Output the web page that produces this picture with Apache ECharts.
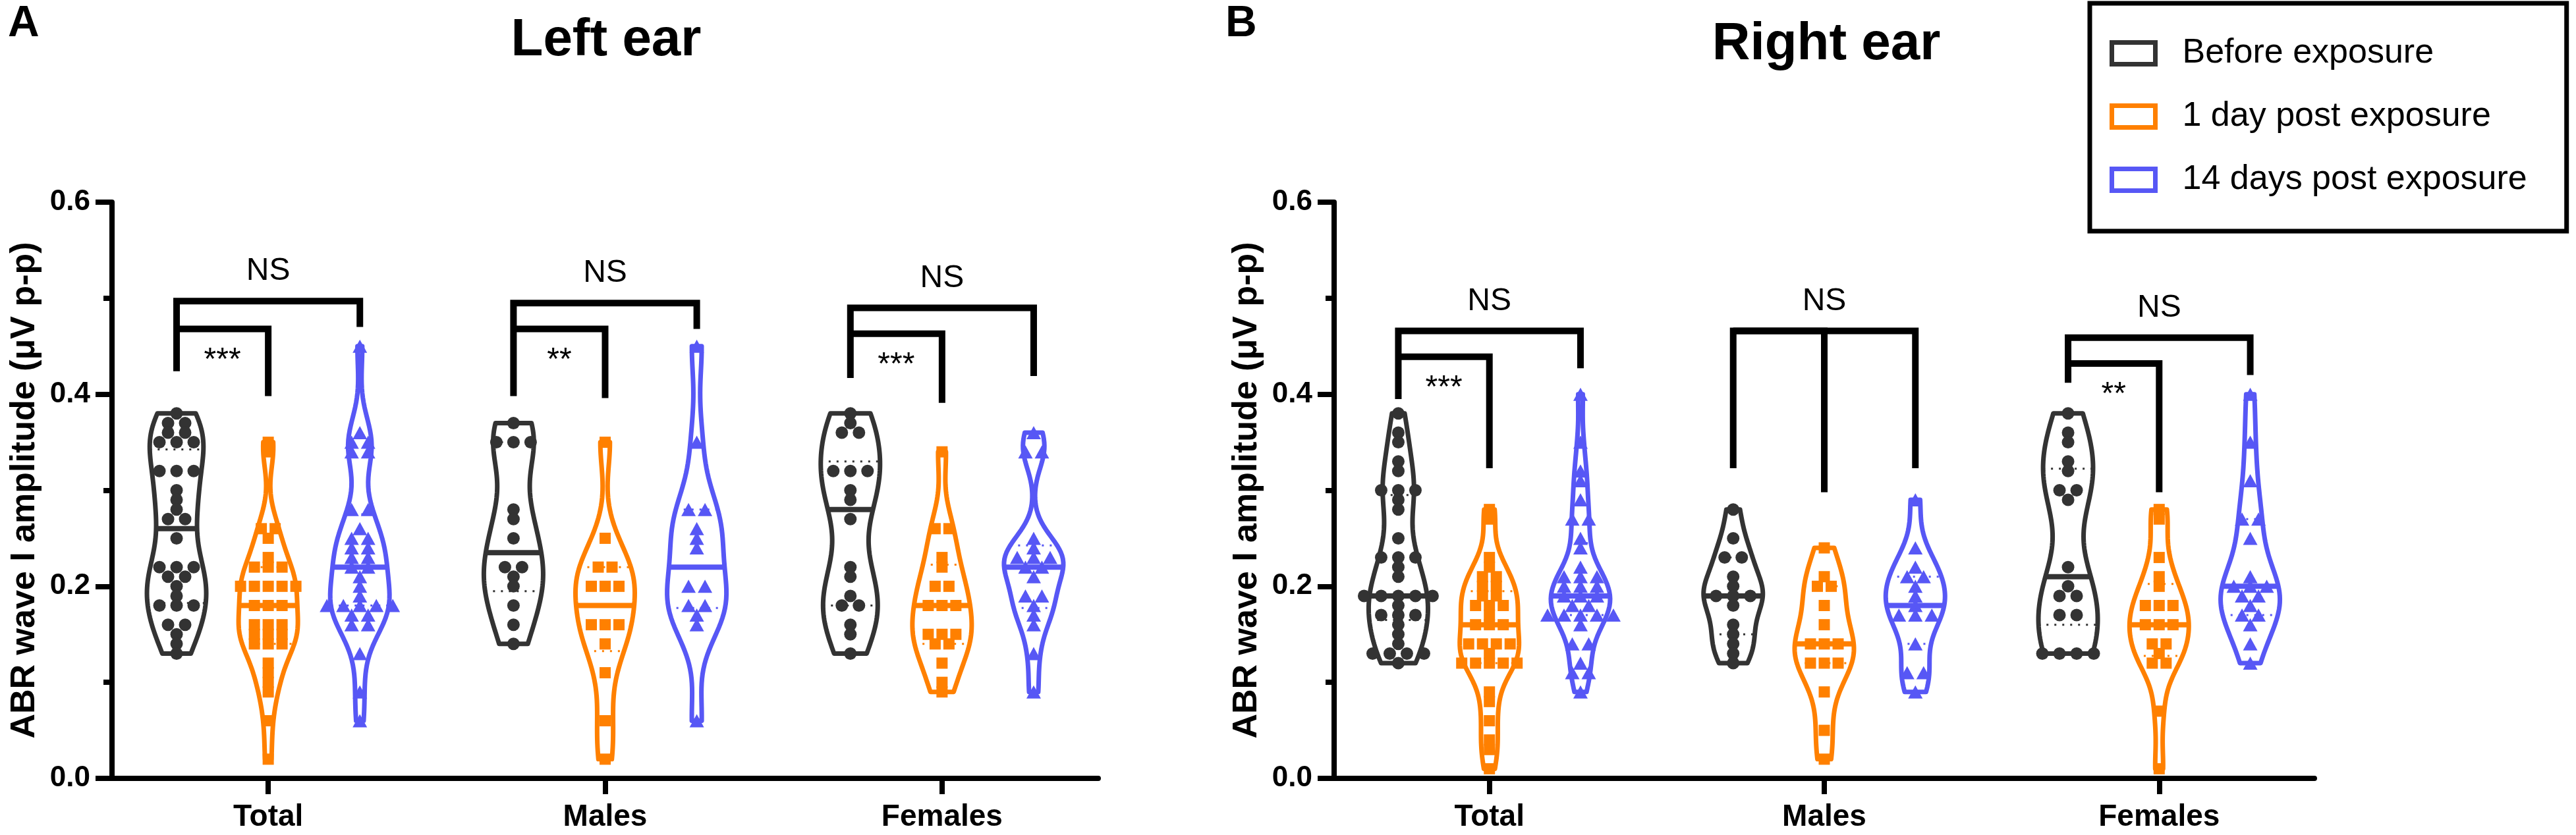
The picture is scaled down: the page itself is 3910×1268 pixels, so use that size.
<!DOCTYPE html>
<html>
<head>
<meta charset="utf-8">
<script src="https://cdn.jsdelivr.net/npm/echarts@6/dist/echarts.min.js"></script>
<style>
  html, body { margin: 0; padding: 0; background: #fff; }
  #chart { width: 3910px; height: 1268px; }
</style>
</head>
<body>
<div id="chart"></div>
<script>
// groups, conditions, look of each condition
const groups = ['Total', 'Males', 'Females'];
const conditions = ['Before exposure', '1 day post exposure', '14 days post exposure'];
const colors = ['#333333', '#ff8000', '#5757f5'];
const symbols = ['circle', 'rect', 'triangle'];

// left ear, one sub-array per group (Total, Males, Females)
const leftBefore = [
  [0.38, 0.37, 0.37, 0.36, 0.36, 0.35, 0.35, 0.35, 0.32, 0.32, 0.32, 0.30, 0.29, 0.28, 0.27, 0.27,
   0.25, 0.22, 0.22, 0.22, 0.21, 0.21, 0.20, 0.19, 0.18, 0.18, 0.18, 0.16, 0.16, 0.15, 0.14, 0.13],
  [0.37, 0.35, 0.35, 0.35, 0.28, 0.27, 0.25, 0.22, 0.22, 0.21, 0.20, 0.18, 0.16, 0.14],
  [0.38, 0.37, 0.36, 0.36, 0.32, 0.32, 0.32, 0.30, 0.29, 0.27, 0.22, 0.21, 0.19, 0.18, 0.18, 0.16, 0.15, 0.13]
];
const leftDay1 = [
  [0.35, 0.34, 0.26, 0.26, 0.25, 0.23, 0.22, 0.22, 0.22, 0.20, 0.20, 0.20, 0.20, 0.20, 0.18, 0.18,
   0.18, 0.16, 0.16, 0.16, 0.15, 0.15, 0.15, 0.14, 0.14, 0.14, 0.12, 0.11, 0.10, 0.09, 0.06, 0.02],
  [0.35, 0.25, 0.22, 0.22, 0.20, 0.20, 0.20, 0.16, 0.16, 0.16, 0.14, 0.11, 0.06, 0.02],
  [0.34, 0.26, 0.26, 0.23, 0.22, 0.20, 0.20, 0.18, 0.18, 0.18, 0.15, 0.15, 0.15, 0.14, 0.14, 0.12, 0.10, 0.09]
];
const leftDay14 = [
  [0.45, 0.36, 0.35, 0.35, 0.34, 0.34, 0.28, 0.28, 0.26, 0.25, 0.25, 0.24, 0.24, 0.23, 0.23, 0.22,
   0.22, 0.21, 0.20, 0.19, 0.18, 0.18, 0.18, 0.18, 0.18, 0.17, 0.17, 0.16, 0.16, 0.13, 0.09, 0.06],
  [0.45, 0.35, 0.28, 0.28, 0.26, 0.25, 0.24, 0.20, 0.20, 0.18, 0.18, 0.17, 0.16, 0.06],
  [0.36, 0.34, 0.34, 0.25, 0.24, 0.23, 0.23, 0.23, 0.22, 0.22, 0.21, 0.19, 0.19, 0.18, 0.17, 0.16, 0.13, 0.09]
];

// right ear
const rightBefore = [
  [0.38, 0.36, 0.35, 0.33, 0.32, 0.30, 0.30, 0.30, 0.29, 0.28, 0.25, 0.23, 0.23, 0.23, 0.22, 0.21, 0.19,
   0.19, 0.19, 0.19, 0.19, 0.18, 0.17, 0.17, 0.17, 0.16, 0.15, 0.14, 0.13, 0.13, 0.13, 0.13, 0.12],
  [0.28, 0.25, 0.23, 0.23, 0.21, 0.20, 0.19, 0.19, 0.19, 0.18, 0.16, 0.15, 0.14, 0.13, 0.12],
  [0.38, 0.36, 0.35, 0.33, 0.32, 0.30, 0.30, 0.29, 0.22, 0.20, 0.19, 0.19, 0.17, 0.17, 0.13, 0.13, 0.13, 0.13]
];
const rightDay1 = [
  [0.28, 0.27, 0.23, 0.22, 0.21, 0.21, 0.20, 0.20, 0.19, 0.19, 0.18, 0.18, 0.18, 0.17, 0.16, 0.16, 0.16,
   0.14, 0.14, 0.14, 0.14, 0.13, 0.12, 0.12, 0.12, 0.12, 0.12, 0.09, 0.08, 0.06, 0.04, 0.03, 0.01],
  [0.24, 0.21, 0.20, 0.20, 0.18, 0.16, 0.14, 0.14, 0.14, 0.12, 0.12, 0.12, 0.09, 0.05, 0.02],
  [0.28, 0.27, 0.23, 0.21, 0.20, 0.18, 0.18, 0.18, 0.16, 0.16, 0.16, 0.14, 0.14, 0.13, 0.12, 0.12, 0.07, 0.01]
];
const rightDay14 = [
  [0.40, 0.35, 0.32, 0.31, 0.29, 0.27, 0.27, 0.25, 0.24, 0.22, 0.21, 0.21, 0.21, 0.20, 0.20, 0.20, 0.19,
   0.19, 0.19, 0.18, 0.18, 0.17, 0.17, 0.17, 0.17, 0.17, 0.16, 0.14, 0.14, 0.12, 0.11, 0.11, 0.09],
  [0.29, 0.24, 0.22, 0.21, 0.21, 0.20, 0.19, 0.18, 0.17, 0.17, 0.17, 0.14, 0.11, 0.11, 0.09],
  [0.40, 0.35, 0.31, 0.27, 0.27, 0.25, 0.21, 0.20, 0.20, 0.20, 0.19, 0.19, 0.18, 0.17, 0.17, 0.16, 0.14, 0.12]
];

// comparison brackets per group: [outer top, left leg end, right leg end, inner top, inner leg end]
const leftBrackets = [
  [0.497, 0.424, 0.470, 0.468, 0.398],
  [0.495, 0.398, 0.468, 0.468, 0.396],
  [0.490, 0.417, 0.419, 0.463, 0.391]
];
const leftStars = ['***', '**', '***'];
const rightBrackets = [
  [0.466, 0.395, 0.427, 0.439, 0.323],
  [0.466, 0.323, 0.323, 0.466, 0.298],
  [0.459, 0.412, 0.420, 0.432, 0.298]
];
const rightStars = ['***', '', '**'];

const sides = [[leftBefore, leftDay1, leftDay14], [rightBefore, rightDay1, rightDay14]];
const brackets = [leftBrackets, rightBrackets];
const stars = [leftStars, rightStars];

const dodge = [-0.272, 0, 0.272];   // violin offset inside a group, in group units
const halfWidth = 45;               // px, widest point of every violin
const swarmGap = [26, 21, 25];      // px between points with the same value
const symbolSizes = [19, 17, [22, 20]];
const font = '"Liberation Sans", Arial, sans-serif';

function quantile(sorted, p) {
  const n = sorted.length;
  const h = Math.min(Math.max((n + 1) * p, 1), n);
  const lo = Math.floor(h);
  const hi = Math.min(lo + 1, n);
  return sorted[lo - 1] + (sorted[hi - 1] - sorted[lo - 1]) * (h - lo);
}

function stats(vals) {
  const s = vals.slice().sort((a, b) => a - b);
  return { min: s[0], max: s[s.length - 1], q1: quantile(s, 0.25), med: quantile(s, 0.5), q3: quantile(s, 0.75) };
}

function bandwidth(vals) {
  const n = vals.length;
  const mean = vals.reduce((a, b) => a + b, 0) / n;
  const sd = Math.sqrt(vals.reduce((a, b) => a + (b - mean) * (b - mean), 0) / (n - 1));
  const st = stats(vals);
  const spread = Math.min(sd, (st.q3 - st.q1) / 1.34) || sd;
  return 0.85 * 0.9 * spread * Math.pow(n, -0.2);
}

function kde(vals, bw, y) {
  let sum = 0;
  vals.forEach(v => { const z = (y - v) / bw; sum += Math.exp(-0.5 * z * z); });
  return sum;
}

// relative width profile from min to max
function profile(vals) {
  const st = stats(vals);
  const bw = bandwidth(vals);
  const steps = 80;
  const pts = [];
  let peak = 0;
  for (let i = 0; i <= steps; i++) {
    const y = st.min + (st.max - st.min) * i / steps;
    const d = kde(vals, bw, y);
    peak = Math.max(peak, d);
    pts.push([y, d]);
  }
  return { pts: pts.map(p => [p[0], p[1] / peak]), bw, peak, st };
}

function swarm(vals, gap) {
  const counts = {}, seen = {};
  vals.forEach(v => { const k = v.toFixed(3); counts[k] = (counts[k] || 0) + 1; });
  return vals.map(v => {
    const k = v.toFixed(3);
    seen[k] = seen[k] === undefined ? 0 : seen[k] + 1;
    return (seen[k] - (counts[k] - 1) / 2) * gap;
  });
}

function violinRender(side, c) {
  return function (params, api) {
    const g = api.value(0);
    const prof = profile(sides[side][c][g]);
    const cx = api.coord([g + dodge[c], 0])[0];
    const right = [], left = [];
    prof.pts.forEach(([y, w]) => {
      const py = api.coord([g, y])[1];
      right.push([cx + w * halfWidth, py]);
      left.unshift([cx - w * halfWidth, py]);
    });
    return {
      type: 'polygon',
      shape: { points: right.concat(left) },
      style: { fill: 'none', stroke: colors[c], lineWidth: 7, lineJoin: 'round' }
    };
  };
}

function statsRender(side, c) {
  return function (params, api) {
    const g = api.value(0);
    const vals = sides[side][c][g];
    const prof = profile(vals);
    const cx = api.coord([g + dodge[c], 0])[0];
    const seg = (y, style) => {
      const w = kde(vals, prof.bw, y) / prof.peak * halfWidth;
      const py = api.coord([g, y])[1];
      return { type: 'line', shape: { x1: cx - w, y1: py, x2: cx + w, y2: py }, style };
    };
    const dotted = { stroke: colors[c], lineWidth: 3, lineDash: [3, 9] };
    return {
      type: 'group',
      children: [
        seg(prof.st.q1, dotted),
        seg(prof.st.q3, dotted),
        seg(prof.st.med, { stroke: colors[c], lineWidth: 8 })
      ]
    };
  };
}

function bracketRender(side) {
  return function (params, api) {
    const g = api.value(0);
    const [top, legL, legR, inTop, inLeg] = brackets[side][g];
    const xL = api.coord([g + dodge[0], 0])[0];
    const xM = api.coord([g + dodge[1], 0])[0];
    const xR = api.coord([g + dodge[2], 0])[0];
    const y = v => api.coord([g, v])[1];
    const line = { stroke: '#000', lineWidth: 10, fill: 'none', lineJoin: 'miter', lineCap: 'butt' };
    const txt = { font: '48px ' + font, fill: '#000', align: 'center', verticalAlign: 'middle' };
    return {
      type: 'group',
      children: [
        { type: 'polyline', shape: { points: [[xL, y(legL)], [xL, y(top)], [xR, y(top)], [xR, y(legR)]] }, style: line },
        { type: 'polyline', shape: { points: [[xL, y(inTop)], [xM, y(inTop)], [xM, y(inLeg)]] }, style: line },
        { type: 'text', x: (xL + xR) / 2, y: y(top) - 45, style: Object.assign({ text: 'NS' }, txt) },
        { type: 'text', x: (xL + xM) / 2, y: y(inTop) + 48, style: Object.assign({ text: stars[side][g] }, txt) }
      ]
    };
  };
}

const groupRows = groups.map((name, i) => [i, 0]);
const series = [];
[0, 1].forEach(side => {
  conditions.forEach((name, c) => {
    series.push({
      type: 'custom', name, xAxisIndex: side, yAxisIndex: side, z: 2,
      renderItem: violinRender(side, c), data: groupRows, encode: { x: 0, y: 1 }, silent: true
    });
    const pts = [];
    sides[side][c].forEach((vals, g) => {
      const offs = swarm(vals, swarmGap[c]);
      vals.forEach((v, i) => pts.push({ value: [g + dodge[c], v], symbolOffset: [offs[i], 0] }));
    });
    series.push({
      type: 'scatter', name, xAxisIndex: side, yAxisIndex: side, z: 3,
      symbol: symbols[c], symbolSize: symbolSizes[c],
      itemStyle: { color: colors[c], opacity: 1 }, data: pts, silent: true
    });
    series.push({
      type: 'custom', xAxisIndex: side, yAxisIndex: side, z: 4,
      renderItem: statsRender(side, c), data: groupRows, encode: { x: 0, y: 1 }, silent: true
    });
  });
  series.push({
    type: 'custom', xAxisIndex: side, yAxisIndex: side, z: 5,
    renderItem: bracketRender(side), data: groupRows, encode: { x: 0, y: 1 }, silent: true
  });
});

const axisStyle = { color: '#000', width: 8 };
function xAxis(i) {
  return {
    type: 'value', gridIndex: i, min: -0.4637, max: 2.4637,
    axisLine: { show: true, onZero: false, lineStyle: axisStyle },
    axisTick: { show: true, length: 24, customValues: [0, 1, 2], lineStyle: axisStyle },
    axisLabel: {
      customValues: [0, 1, 2], formatter: v => groups[Math.round(v)],
      fontSize: 46, fontWeight: 'bold', color: '#000', margin: 36, fontFamily: font
    },
    splitLine: { show: false }
  };
}
function yAxis(i) {
  return {
    type: 'value', gridIndex: i, min: 0, max: 0.6, interval: 0.2,
    axisLine: { show: true, onZero: false, lineStyle: axisStyle },
    axisTick: { show: true, length: 25, lineStyle: axisStyle },
    minorTick: { show: true, splitNumber: 2, length: 13, lineStyle: axisStyle },
    axisLabel: {
      formatter: v => v.toFixed(1), fontSize: 44, fontWeight: 'bold', color: '#000', margin: 33, fontFamily: font
    },
    splitLine: { show: false },
    name: 'ABR wave I amplitude (\u03bcV p-p)', nameLocation: 'middle', nameGap: 106,
    nameTextStyle: { fontSize: 52, fontWeight: 'bold', color: '#000', fontFamily: font }
  };
}

const chart = echarts.init(document.getElementById('chart'));
chart.setOption({
  animation: false,
  backgroundColor: '#fff',
  textStyle: { fontFamily: font },
  title: [
    { text: 'A', left: 12, top: 4, padding: 0, textStyle: { fontSize: 66, fontWeight: 'bold', color: '#000' } },
    { text: 'Left ear', left: 920, top: 22, padding: 0, textAlign: 'center', textStyle: { fontSize: 80, fontWeight: 'bold', color: '#000' } },
    { text: 'B', left: 1860, top: 4, padding: 0, textStyle: { fontSize: 66, fontWeight: 'bold', color: '#000' } },
    { text: 'Right ear', left: 2772, top: 28, padding: 0, textAlign: 'center', textStyle: { fontSize: 80, fontWeight: 'bold', color: '#000' } }
  ],
  legend: {
    orient: 'vertical', left: 3172, top: 5,
    padding: [50, 60, 52, 30], itemWidth: 66, itemHeight: 33, itemGap: 44,
    borderColor: '#000', borderWidth: 7, selectedMode: false,
    textStyle: { fontSize: 52, color: '#000', fontFamily: font, padding: [0, 0, 0, 36] },
    data: conditions.map((name, i) => ({
      name, icon: 'rect', itemStyle: { color: '#fff', borderColor: colors[i], borderWidth: 7 }
    }))
  },
  grid: [
    { left: 170, top: 307, width: 1497, height: 875 },
    { left: 2025, top: 307, width: 1488, height: 875 }
  ],
  xAxis: [xAxis(0), xAxis(1)],
  yAxis: [yAxis(0), yAxis(1)],
  series
});
window.addEventListener('resize', () => chart.resize());
</script>
</body>
</html>
